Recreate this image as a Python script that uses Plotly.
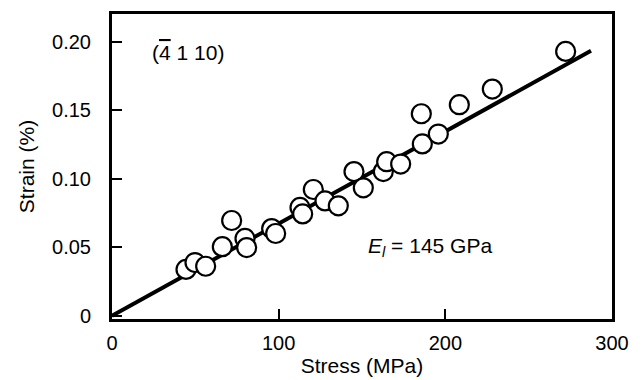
import plotly.graph_objects as go

# Data
stress_mpa = [44.4, 49.8, 56.2, 66.2, 71.8, 79.8, 80.8, 95.8, 98.2, 112.8,
              114.4, 120.8, 127.8, 135.8, 145.2, 150.8, 162.8, 164.8, 173.2,
              185.6, 186.2, 195.8, 208.4, 228.2, 272.2]
strain_pct = [0.0338, 0.0388, 0.0361, 0.0504, 0.0695, 0.0564, 0.0497, 0.0636,
              0.0600, 0.0790, 0.0743, 0.0921, 0.0838, 0.0802, 0.1052, 0.0933,
              0.1052, 0.1124, 0.1107, 0.1474, 0.1254, 0.1326, 0.1540, 0.1654,
              0.1929]
fit_stress = [0, 287.4]
fit_strain = [0, 0.1933]
x_ticks = [0, 100, 200, 300]
y_ticks = [0, 0.05, 0.10, 0.15, 0.20]
y_tick_text = ["0", "0.05", "0.10", "0.15", "0.20"]

FONT = "Liberation Sans, Arial, sans-serif"

fig = go.Figure()
fig.add_trace(go.Scatter(x=fit_stress, y=fit_strain, mode="lines",
                         line=dict(color="black", width=4), showlegend=False,
                         hoverinfo="skip"))
fig.add_trace(go.Scatter(x=stress_mpa, y=strain_pct, mode="markers",
                         marker=dict(symbol="circle", size=19, color="white",
                                     line=dict(color="black", width=2.2)),
                         showlegend=False))

fig.add_annotation(x=22.5, y=0.1922, xref="x", yref="y", xanchor="left",
                   text="(<span style='text-decoration:overline'>4</span> 1 10)",
                   showarrow=False,
                   font=dict(family=FONT, size=21, color="black"))
fig.add_annotation(x=152.6, y=0.0502, xref="x", yref="y", xanchor="left",
                   text="<i>E</i><sub><i>l</i></sub> = 145 GPa", showarrow=False,
                   font=dict(family=FONT, size=21, color="black"))

fig.update_layout(
    width=642, height=380,
    margin=dict(l=112, r=30, t=14, b=61),
    paper_bgcolor="white", plot_bgcolor="white",
    font=dict(family=FONT, size=20, color="black"),
    xaxis=dict(range=[0, 300], tickvals=x_ticks, ticks="inside", ticklen=10,
               tickwidth=2, tickcolor="black", showline=True, linecolor="black",
               linewidth=3, mirror=True, showgrid=False, zeroline=False,
               ticklabelstandoff=4, automargin=False,
               tickfont=dict(family=FONT, size=20),
               title=dict(text="Stress (MPa)", standoff=6,
                          font=dict(family=FONT, size=21))),
    yaxis=dict(range=[-0.0024, 0.2202], tickvals=y_ticks, ticktext=y_tick_text,
               ticks="inside", ticklen=10, tickwidth=2, tickcolor="black",
               showline=True, linecolor="black", linewidth=3, mirror=True,
               showgrid=False, zeroline=False, ticklabelstandoff=14,
               automargin=False,
               tickfont=dict(family=FONT, size=20),
               title=dict(text="Strain (%)", standoff=12,
                          font=dict(family=FONT, size=21))),
)
fig.write_html("out.html", config={"displayModeBar": False},
               post_script="document.body.style.margin='0';")
